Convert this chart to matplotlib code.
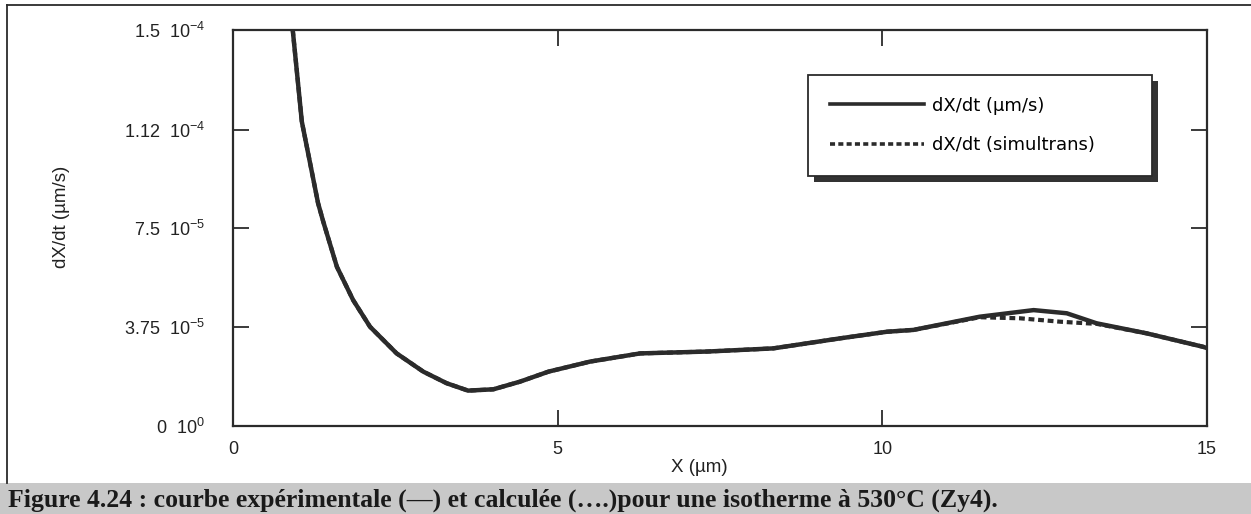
import matplotlib
matplotlib.use('Agg')
import matplotlib.pyplot as plt
from matplotlib.patches import Rectangle
from matplotlib.lines import Line2D

plt.rcParams['font.family'] = ['Liberation Sans', 'DejaVu Sans']
plt.rcParams['mathtext.fontset'] = 'custom'
plt.rcParams['mathtext.rm'] = 'Liberation Sans'
plt.rcParams['mathtext.default'] = 'regular'

# experimental curve, dX/dt in 1e-5 um/s
x_exp = [0.92, 1.06, 1.31, 1.39, 1.60, 1.85, 2.11, 2.52, 2.93, 3.29, 3.62, 4.01, 4.42,
         4.86, 5.50, 6.27, 7.30, 8.32, 9.35, 10.07, 10.48, 11.50, 12.33, 12.84, 13.30,
         14.07, 14.94, 15.0]
y_exp = [15.0, 11.53, 8.44, 7.74, 6.03, 4.77, 3.76, 2.75, 2.06, 1.62, 1.34, 1.39, 1.68,
         2.06, 2.44, 2.75, 2.82, 2.94, 3.32, 3.57, 3.64, 4.14, 4.39, 4.27, 3.89,
         3.51, 3.00, 2.95]

# calculated curve (simultrans)
x_sim = [0.92, 1.06, 1.31, 1.39, 1.60, 1.85, 2.11, 2.52, 2.93, 3.29, 3.62, 4.01, 4.42,
         4.86, 5.50, 6.27, 7.30, 8.32, 9.35, 10.07, 10.48, 11.50, 12.12, 12.74, 13.15,
         13.30, 14.07, 14.94, 15.0]
y_sim = [15.0, 11.53, 8.44, 7.74, 6.03, 4.77, 3.76, 2.75, 2.06, 1.62, 1.34, 1.39, 1.68,
         2.06, 2.44, 2.75, 2.82, 2.94, 3.32, 3.57, 3.64, 4.12, 4.08, 3.95, 3.89,
         3.87, 3.51, 3.00, 2.95]

y_ticks = [0, 3.75e-5, 7.5e-5, 1.12e-4, 1.5e-4]
y_ticklabels = [r'0  10$^{0}$', r'3.75  10$^{-5}$', r'7.5  10$^{-5}$',
                r'1.12  10$^{-4}$', r'1.5  10$^{-4}$']
x_ticks = [0, 5, 10, 15]

caption = ('Figure 4.24 : courbe expérimentale (\u2014) et calculée (\u2026.)'
           'pour une isotherme à 530°C (Zy4).')

W, H = 1251, 514
fig = plt.figure(figsize=(W / 100, H / 100), dpi=100)
ax = fig.add_axes([233 / W, 1 - 426 / H, (1207 - 233) / W, (426 - 30) / H])

dark = '#2b2b2b'
ax.plot(x_exp, [v * 1e-5 for v in y_exp], color=dark, lw=3.2, solid_joinstyle='miter',
        label='dX/dt (µm/s)')
ax.plot(x_sim, [v * 1e-5 for v in y_sim], color=dark, lw=3.0, dashes=(1.4, 0.9),
        label='dX/dt (simultrans)')

ax.set_xlim(0, 15)
ax.set_ylim(0, 1.5e-4)
ax.set_xticks(x_ticks)
ax.set_yticks(y_ticks)
ax.set_yticklabels(y_ticklabels)
ax.tick_params(axis='both', direction='in', length=11.5, width=1.3, color=dark,
               labelsize=13, labelcolor='#222222')
ax.tick_params(axis='y', right=True, pad=20)
ax.tick_params(axis='x', top=True, pad=11)
for s in ax.spines.values():
    s.set_linewidth(1.6)
    s.set_color(dark)

ax.set_ylabel('dX/dt (µm/s)', fontsize=13.5, color='#222222')
ax.yaxis.set_label_coords(-0.167, 0.528)
ax.set_xlabel('X (µm)', fontsize=13.5, color='#222222')
ax.xaxis.set_label_coords(0.479, -0.084)

handles = [Line2D([], [], color=dark, lw=2.6),
           Line2D([], [], color=dark, lw=2.6, dashes=(1.4, 0.9))]
leg = ax.legend(handles, ['dX/dt (µm/s)', 'dX/dt (simultrans)'],
                loc='upper left', mode='expand',
                bbox_to_anchor=(808 / W, 1 - 173 / H, 344 / W, 98 / H),
                bbox_transform=fig.transFigure, borderaxespad=0,
                prop={'family': 'DejaVu Sans', 'size': 13},
                handlelength=5.2, handletextpad=0.45,
                labelspacing=1.2, borderpad=1.2, fancybox=False,
                edgecolor=dark, framealpha=1)
leg.get_frame().set_linewidth(1.3)
leg.set_zorder(5)

# dark drop shadow under the legend
fig.canvas.draw()
bb = leg.get_window_extent()
shadow = Rectangle((bb.x0 + 6, bb.y0 - 6), bb.width, bb.height,
                   transform=None, facecolor='#333333', edgecolor='none', zorder=4)
ax.add_artist(shadow)
shadow.set_clip_on(False)

# outer frame of the scanned figure
fig.add_artist(Line2D([7 / W, 7 / W], [1 - 483 / H, 1 - 5 / H], color=dark, lw=1.3))
fig.add_artist(Line2D([7 / W, 1], [1 - 5 / H, 1 - 5 / H], color=dark, lw=1.3))

# caption band
fig.add_artist(Rectangle((0, 0), 1, 31 / H, transform=fig.transFigure,
                         facecolor='#c8c8c8', edgecolor='none'))
fig.text(8 / W, 14 / H, caption, fontsize=18.5, fontweight='bold',
         family=['Liberation Serif', 'DejaVu Serif'], color='#1a1a1a', va='center')

fig.savefig('out.png', dpi=100)
